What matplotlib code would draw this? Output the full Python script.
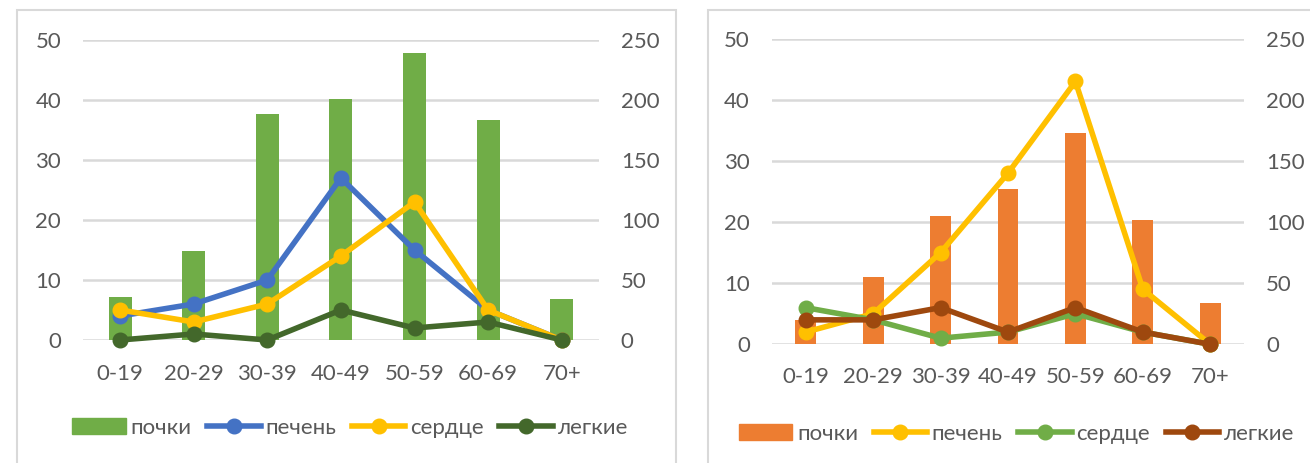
import matplotlib
matplotlib.use('Agg')
import matplotlib.pyplot as plt
from matplotlib.patches import Rectangle
from matplotlib.lines import Line2D

plt.rcParams['font.family'] = ['Lato', 'DejaVu Sans']

# возрастные группы
ages = ['0-19', '20-29', '30-39', '40-49', '50-59', '60-69', '70+']

# левая диаграмма
kidney_1 = [36, 74, 188, 201, 239, 183, 34]
liver_1 = [4, 6, 10, 27, 15, 5, 0]
heart_1 = [5, 3, 6, 14, 23, 5, 0]
lungs_1 = [0, 1, 0, 5, 2, 3, 0]

# правая диаграмма
kidney_2 = [20, 55, 105, 127, 173, 102, 34]
liver_2 = [2, 5, 15, 28, 43, 9, 0]
heart_2 = [6, 4, 1, 2, 5, 2, 0]
lungs_2 = [4, 4, 6, 2, 6, 2, 0]

names = ['почки', 'печень', 'сердце', 'легкие']
TXT = '#595959'
GRID = '#D9D9D9'
FS = 16
LW, MS = 4.0, 10.5
W, H = 1310, 463

fig = plt.figure(figsize=(W / 100, H / 100), dpi=100)

# рамки вокруг диаграмм
for x0, x1 in [(17, 676), (708, 1330)]:
    fig.patches.append(Rectangle((x0 / W, -0.1), (x1 - x0) / W, 1 - 10 / H + 0.1,
                                 transform=fig.transFigure, fill=False,
                                 edgecolor=GRID, lw=1.5))


def make_panel(box, bars, lines, bar_color, line_colors, xpad):
    x0, y0, x1, y1 = box
    ax = fig.add_axes([x0 / W, (H - y1) / H, (x1 - x0) / W, (y1 - y0) / H])
    axl = ax.twinx()
    x = range(len(ages))

    # столбцы - по правой оси
    ax.bar(x, bars, width=0.31, color=bar_color, zorder=2)
    ax.set_ylim(0, 250)
    ax.set_yticks(range(0, 251, 50))
    ax.set_xlim(-0.5, len(ages) - 0.5)
    ax.yaxis.tick_right()
    ax.grid(axis='y', color=GRID, lw=1.8, zorder=0)
    ax.set_axisbelow(True)
    ax.set_xticks(list(x))
    ax.set_xticklabels(ages)
    ax.tick_params(axis='both', length=0, colors=TXT, labelsize=FS)
    ax.tick_params(axis='x', pad=xpad)
    ax.tick_params(axis='y', pad=16)

    # линии - по левой оси
    axl.yaxis.tick_left()
    axl.set_ylim(0, 50)
    axl.set_yticks(range(0, 51, 10))
    axl.tick_params(axis='y', length=0, colors=TXT, labelsize=FS, pad=16)
    for vals, c in zip(lines, line_colors):
        axl.plot(list(x), vals, color=c, lw=LW, marker='o', ms=MS,
                 clip_on=False, solid_capstyle='round', zorder=3)

    for a in (ax, axl):
        for s in a.spines.values():
            s.set_visible(False)

    handles = [Rectangle((0, 0), 1, 1, color=bar_color)]
    handles += [Line2D([], [], color=c, lw=LW, marker='o', ms=MS) for c in line_colors]
    leg = ax.legend(handles, names, loc='center', bbox_to_anchor=(0.518, -0.293),
                    ncol=4, frameon=False, fontsize=FS, handlelength=2.4,
                    handleheight=0.75, handletextpad=0.22, columnspacing=0.7,
                    borderaxespad=0)
    for t in leg.get_texts():
        t.set_color(TXT)
    return ax


make_panel((83.3, 40, 598.5, 340), kidney_1, [liver_1, heart_1, lungs_1],
           '#70AD47', ['#4472C4', '#FFC000', '#43682B'], 17)
make_panel((772, 38.7, 1244, 344.3), kidney_2, [liver_2, heart_2, lungs_2],
           '#ED7D31', ['#FFC000', '#70AD47', '#9E480E'], 16)

fig.savefig('out.png', dpi=100)
